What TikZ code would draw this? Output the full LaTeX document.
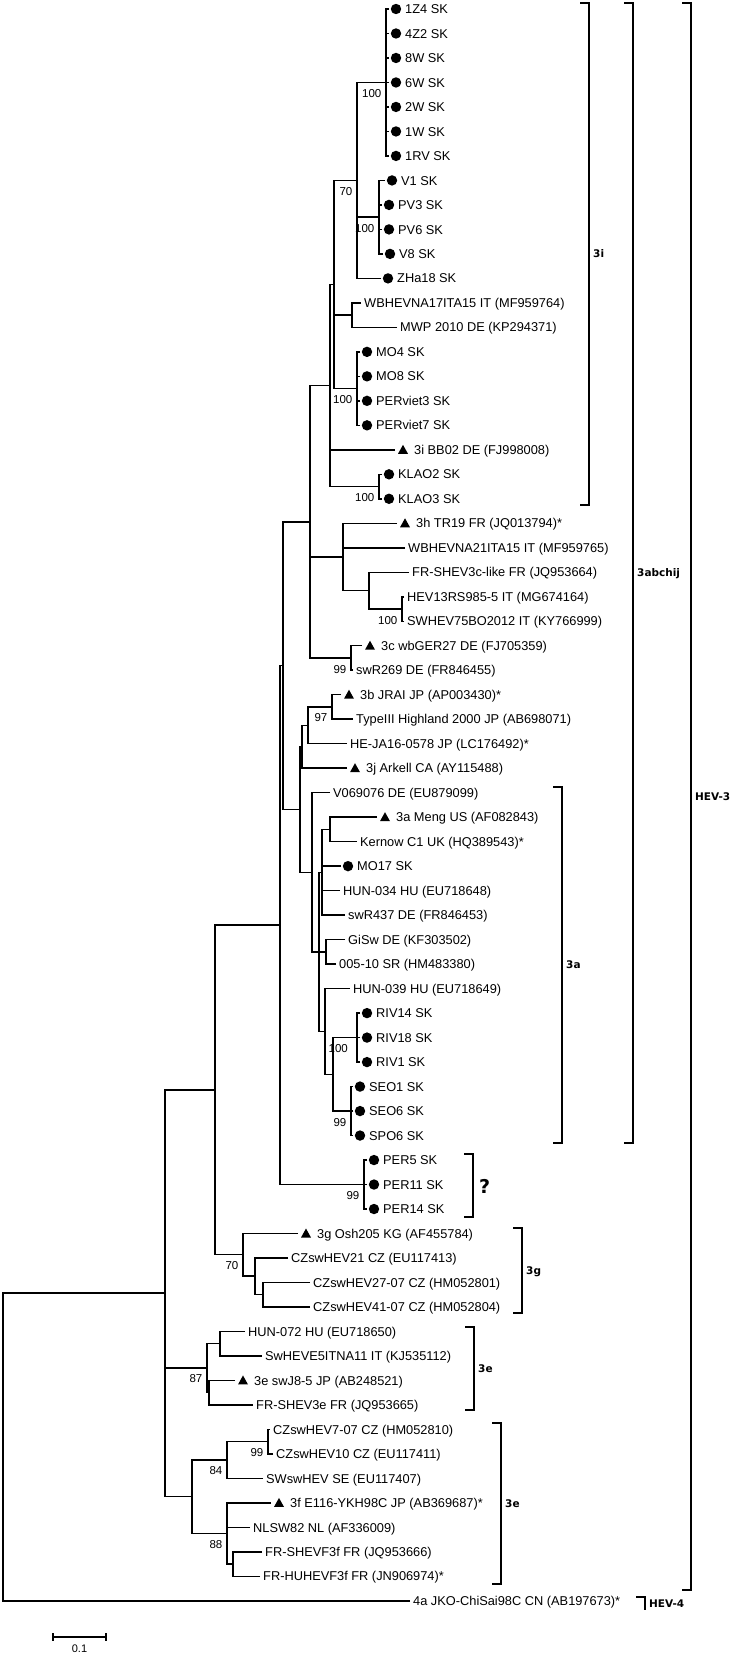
\documentclass[tikz,border=0pt]{standalone}
\usepackage{fontspec}
\setmainfont{Liberation Sans}
\newfontfamily\cladefont{DejaVu Sans}
\tikzset{
  branch/.style={line width=1.5pt},
  bracket/.style={line width=2pt},
  taxon/.style={anchor=base west, inner sep=0pt, font=\fontsize{12.8}{14}\selectfont},
  bootlab/.style={anchor=east, inner sep=0pt, font=\fontsize{11.5}{13}\selectfont},
  cladelab/.style={anchor=base west, inner sep=0pt, font=\cladefont\bfseries\fontsize{10.5}{12}\selectfont}
}
% leaves: name, row, tip x, text
\newcommand\plainleaf[4]{%
  \coordinate (#1) at (#3,{9+24.49*(#2-1)});
  \node[taxon] (#1-t) at ([xshift=3pt,yshift=-4.6pt]#1) {#4};}
\newcommand\dotleaf[4]{%
  \coordinate (#1) at (#3,{9+24.49*(#2-1)});
  \fill ([xshift=7pt]#1) circle (5.2pt);
  \node[taxon] (#1-t) at ([xshift=16pt,yshift=-4.6pt]#1) {#4};}
\newcommand\refleaf[4]{%
  \coordinate (#1) at (#3,{9+24.49*(#2-1)});
  \fill ([xshift=3pt,yshift=-4pt]#1) -- ++(10pt,0) -- ++(-5pt,9pt) -- cycle;
  \node[taxon] (#1-t) at ([xshift=19pt,yshift=-4.6pt]#1) {#4};}
\newcommand\clade[2]{\foreach \m in {#2} \draw[branch] (\m) -| (#1);}
\newcommand\boot[3][-4.5pt]{\node[bootlab] (b-#2) at ([xshift=#1,yshift=-11pt]#2) {#3};}
\newcommand\bracket[5]{%
  \draw[bracket] (#2-9,#3) -- (#2,#3) -- (#2,#4) -- (#2-9,#4);
  \node[cladelab] (#1) at (#2+4,{(#3+#4)/2+3.8}) {#5};}

\begin{document}
\begin{tikzpicture}[x=1pt,y=-1pt]
\useasboundingbox (0,0) rectangle (736,1654);

% taxa
\dotleaf{z1Z4}{1}{389}{1Z4 SK}
\dotleaf{z4Z2}{2}{389}{4Z2 SK}
\dotleaf{w8}{3}{389}{8W SK}
\dotleaf{w6}{4}{389}{6W SK}
\dotleaf{w2}{5}{389}{2W SK}
\dotleaf{w1}{6}{389}{1W SK}
\dotleaf{rv1}{7}{389}{1RV SK}
\dotleaf{v1}{8}{385}{V1 SK}
\dotleaf{pv3}{9}{382}{PV3 SK}
\dotleaf{pv6}{10}{382}{PV6 SK}
\dotleaf{v8}{11}{383}{V8 SK}
\dotleaf{zha18}{12}{381}{ZHa18 SK}
\plainleaf{wbna17}{13}{361}{WBHEVNA17ITA15 IT (MF959764)}
\plainleaf{mwp}{14}{397}{MWP 2010 DE (KP294371)}
\dotleaf{mo4}{15}{360}{MO4 SK}
\dotleaf{mo8}{16}{360}{MO8 SK}
\dotleaf{perv3}{17}{360}{PERviet3 SK}
\dotleaf{perv7}{18}{360}{PERviet7 SK}
\refleaf{bb02}{19}{395}{3i BB02 DE (FJ998008)}
\dotleaf{klao2}{20}{382}{KLAO2 SK}
\dotleaf{klao3}{21}{382}{KLAO3 SK}
\refleaf{tr19}{22}{397}{3h TR19 FR (JQ013794)*}
\plainleaf{wbna21}{23}{405}{WBHEVNA21ITA15 IT (MF959765)}
\plainleaf{frs3c}{24}{409}{FR-SHEV3c-like FR (JQ953664)}
\plainleaf{hev13}{25}{404}{HEV13RS985-5 IT (MG674164)}
\plainleaf{swhev75}{26}{404}{SWHEV75BO2012 IT (KY766999)}
\refleaf{wbger27}{27}{362}{3c wbGER27 DE (FJ705359)}
\plainleaf{swr269}{28}{353}{swR269 DE (FR846455)}
\refleaf{jrai}{29}{341}{3b JRAI JP (AP003430)*}
\plainleaf{highland}{30}{353}{TypeIII Highland 2000 JP (AB698071)}
\plainleaf{heja16}{31}{347}{HE-JA16-0578 JP (LC176492)*}
\refleaf{arkell}{32}{347}{3j Arkell CA (AY115488)}
\plainleaf{v069076}{33}{330}{V069076 DE (EU879099)}
\refleaf{meng}{34}{377}{3a Meng US (AF082843)}
\plainleaf{kernow}{35}{357}{Kernow C1 UK (HQ389543)*}
\dotleaf{mo17}{36}{341}{MO17 SK}
\plainleaf{hun034}{37}{340}{HUN-034 HU (EU718648)}
\plainleaf{swr437}{38}{345}{swR437 DE (FR846453)}
\plainleaf{gisw}{39}{345}{GiSw DE (KF303502)}
\plainleaf{sr005}{40}{336}{005-10 SR (HM483380)}
\plainleaf{hun039}{41}{350}{HUN-039 HU (EU718649)}
\dotleaf{riv14}{42}{360}{RIV14 SK}
\dotleaf{riv18}{43}{360}{RIV18 SK}
\dotleaf{riv1}{44}{360}{RIV1 SK}
\dotleaf{seo1}{45}{353}{SEO1 SK}
\dotleaf{seo6}{46}{353}{SEO6 SK}
\dotleaf{spo6}{47}{353}{SPO6 SK}
\dotleaf{per5}{48}{367}{PER5 SK}
\dotleaf{per11}{49}{367}{PER11 SK}
\dotleaf{per14}{50}{367}{PER14 SK}
\refleaf{osh205}{51}{298}{3g Osh205 KG (AF455784)}
\plainleaf{cz21}{52}{288}{CZswHEV21 CZ (EU117413)}
\plainleaf{cz27}{53}{310}{CZswHEV27-07 CZ (HM052801)}
\plainleaf{cz41}{54}{310}{CZswHEV41-07 CZ (HM052804)}
\plainleaf{hun072}{55}{245}{HUN-072 HU (EU718650)}
\plainleaf{e5itna}{56}{262}{SwHEVE5ITNA11 IT (KJ535112)}
\refleaf{swj8}{57}{235}{3e swJ8-5 JP (AB248521)}
\plainleaf{frs3e}{58}{253}{FR-SHEV3e FR (JQ953665)}
\plainleaf{cz7}{59}{270}{CZswHEV7-07 CZ (HM052810)}
\plainleaf{cz10}{60}{273}{CZswHEV10 CZ (EU117411)}
\plainleaf{swsw}{61}{263}{SWswHEV SE (EU117407)}
\refleaf{e116}{62}{271}{3f E116-YKH98C JP (AB369687)*}
\plainleaf{nlsw82}{63}{250}{NLSW82 NL (AF336009)}
\plainleaf{frsf3f}{64}{262}{FR-SHEVF3f FR (JQ953666)}
\plainleaf{frhuf3f}{65}{260}{FR-HUHEVF3f FR (JN906974)*}
\plainleaf{chisai}{66}{410}{4a JKO-ChiSai98C CN (AB197673)*}

% internal nodes
\coordinate (c1Z4) at (386,82.5);
\coordinate (cV) at (379,217.2);
\coordinate (cA70) at (357,180.4);
\coordinate (cWB) at (352,315.1);
\coordinate (cMO) at (357,388.6);
\coordinate (cV334) at (334,284.5);
\coordinate (cKL) at (379,486.6);
\coordinate (c3i) at (330,385.5);
\coordinate (cHEV13) at (402,609.1);
\coordinate (cFR) at (369,590.7);
\coordinate (c3h) at (343,557);
\coordinate (c3c) at (351,658.1);
\coordinate (c310) at (310,521.8);
\coordinate (c97) at (332,706.9);
\coordinate (c307) at (308,725.3);
\coordinate (c303) at (302,746.7);
\coordinate (cM1) at (330,829.4);
\coordinate (cS) at (322,872.3);
\coordinate (cM2) at (326,951.9);
\coordinate (cRIV) at (357,1037.6);
\coordinate (cSEO) at (351,1111.1);
\coordinate (cQ) at (333,1074.3);
\coordinate (cP) at (325,1031.5);
\coordinate (cT) at (319,951.9);
\coordinate (c3a) at (312,872.3);
\coordinate (c300) at (300,809.5);
\coordinate (cNa) at (283,665.6);
\coordinate (cPER) at (364,1184.7);
\coordinate (cNb) at (280,925.2);
\coordinate (cCZ2) at (263,1294.4);
\coordinate (cCZ) at (255,1276.1);
\coordinate (c3g) at (243,1254.7);
\coordinate (cNc) at (215,1089.9);
\coordinate (cHUN) at (220,1343.4);
\coordinate (cJ8) at (209,1392.5);
\coordinate (c3e1) at (207,1367.9);
\coordinate (c99) at (268,1441.5);
\coordinate (c84) at (227,1459.8);
\coordinate (cFRF) at (233,1563.9);
\coordinate (c88) at (227,1533.3);
\coordinate (c3e2) at (192,1496.6);
\coordinate (cNd) at (165,1293.2);
\coordinate (root) at (3,1447.2);

% branches
\clade{c1Z4}{z1Z4,z4Z2,w8,w6,w2,w1,rv1}
\clade{cV}{v1,pv3,pv6,v8}
\clade{cA70}{c1Z4,cV,zha18}
\clade{cWB}{wbna17,mwp}
\clade{cMO}{mo4,mo8,perv3,perv7}
\clade{cV334}{cA70,cWB,cMO}
\clade{cKL}{klao2,klao3}
\clade{c3i}{cV334,bb02,cKL}
\clade{cHEV13}{hev13,swhev75}
\clade{cFR}{frs3c,cHEV13}
\clade{c3h}{tr19,wbna21,cFR}
\clade{c3c}{wbger27,swr269}
\clade{c310}{c3i,c3h,c3c}
\clade{c97}{jrai,highland}
\clade{c307}{c97,heja16}
\clade{c303}{c307,arkell}
\clade{cM1}{meng,kernow}
\clade{cS}{cM1,mo17,hun034,swr437}
\clade{cM2}{gisw,sr005}
\clade{cRIV}{riv14,riv18,riv1}
\clade{cSEO}{seo1,seo6,spo6}
\clade{cQ}{cRIV,cSEO}
\clade{cP}{hun039,cQ}
\clade{cT}{cS,cM2,cP}
\clade{c3a}{v069076,cT}
\clade{c300}{c303,c3a}
\clade{cNa}{c310,c300}
\clade{cPER}{per5,per11,per14}
\clade{cNb}{cNa,cPER}
\clade{cCZ2}{cz27,cz41}
\clade{cCZ}{cz21,cCZ2}
\clade{c3g}{osh205,cCZ}
\clade{cNc}{cNb,c3g}
\clade{cHUN}{hun072,e5itna}
\clade{cJ8}{swj8,frs3e}
\clade{c3e1}{cHUN,cJ8}
\clade{c99}{cz7,cz10}
\clade{c84}{c99,swsw}
\clade{cFRF}{frsf3f,frhuf3f}
\clade{c88}{e116,nlsw82,cFRF}
\clade{c3e2}{c84,c88}
\clade{cNd}{cNc,c3e1,c3e2}
\clade{root}{cNd,chisai}

% bootstrap values
\boot{c1Z4}{100}
\boot{cA70}{70}
\boot{cV}{100}
\boot{cMO}{100}
\boot{cKL}{100}
\boot{cHEV13}{100}
\boot{c3c}{99}
\boot{c97}{97}
\boot[-9pt]{cRIV}{100}
\boot{cSEO}{99}
\boot{cPER}{99}
\boot{c3g}{70}
\boot{c3e1}{87}
\boot{c99}{99}
\boot{c84}{84}
\boot{c88}{88}

% genotype brackets
\bracket{g3i}{589}{3}{505}{3i}
\bracket{g3abchij}{633}{3}{1143}{3abchij}
\bracket{gHEV3}{691}{3}{1590}{HEV-3}
\bracket{g3a}{562}{787}{1143}{3a}
\draw[bracket] (464,1154) -- (473,1154) -- (473,1217) -- (464,1217);
\node[anchor=west, inner sep=0pt, font=\cladefont\bfseries\fontsize{19}{22}\selectfont] (unknown) at (479,1186) {?};
\bracket{g3g}{522}{1228}{1313}{3g}
\bracket{g3e}{474}{1327}{1410}{3e}
\bracket{g3f}{501}{1423}{1584}{3e}
\draw[bracket] (636,1597) -- (645,1597) -- (645,1610);
\node[cladelab] (gHEV4) at (649,1607) {HEV-4};

% scale
\coordinate (sbL) at (53,1637);
\coordinate (sbR) at (106,1637);
\draw[branch] (sbL) -- (sbR);
\draw[branch] ([yshift=4pt]sbL) -- ([yshift=-4pt]sbL);
\draw[branch] ([yshift=4pt]sbR) -- ([yshift=-4pt]sbR);
\node[inner sep=0pt, font=\fontsize{11}{12}\selectfont] (sbtext) at (79.5,1649) {0.1};
\end{tikzpicture}
\end{document}
